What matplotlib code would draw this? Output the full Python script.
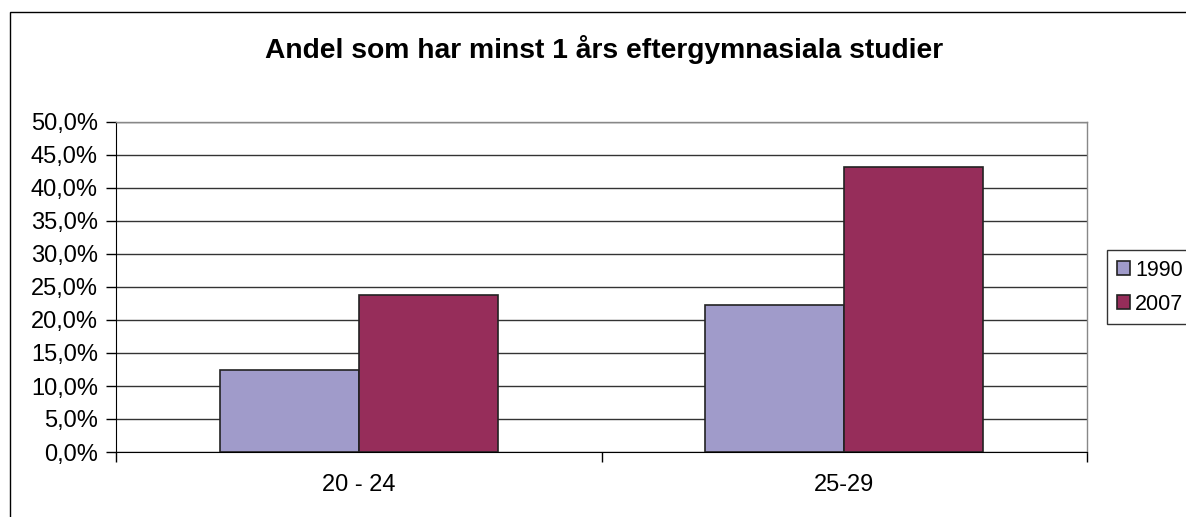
import numpy as np
import matplotlib.pyplot as plt
from matplotlib.patches import Rectangle
from matplotlib.ticker import FuncFormatter

categories = ["20 - 24", "25-29"]
years = ["1990", "2007"]
values_1990 = [12.5, 22.2]
values_2007 = [23.8, 43.2]
yticks = [0, 5, 10, 15, 20, 25, 30, 35, 40, 45, 50]

colors = ["#A09BCA", "#962D5A"]

plt.rcParams["font.family"] = ["Liberation Sans", "DejaVu Sans"]

fig = plt.figure(figsize=(11.86, 5.17), dpi=100)
ax = fig.add_axes([116 / 1186, 1 - 452 / 517, 971 / 1186, 330 / 517])

# outer chart border (cut off at right and bottom like the original)
fig.patches.append(Rectangle((10 / 1186, -0.1), 1.2, 1 - 12 / 517 + 0.1,
                             transform=fig.transFigure, fill=False,
                             edgecolor="black", lw=1.0))

x = np.arange(len(categories))
w = 0.286
ax.bar(x - w / 2, values_1990, w, color=colors[0], edgecolor="#222222", lw=1.2, label=years[0], zorder=3)
ax.bar(x + w / 2, values_2007, w, color=colors[1], edgecolor="#222222", lw=1.2, label=years[1], zorder=3)

ax.set_xlim(-0.5, len(categories) - 0.5)
ax.set_ylim(0, 50)
ax.set_yticks(yticks)
ax.yaxis.set_major_formatter(FuncFormatter(lambda v, p: f"{v:.1f}%".replace(".", ",")))
ax.yaxis.grid(True, color="#333333", lw=1.0, zorder=0)

ax.set_xticks(x)
ax.set_xticklabels(categories)
ax.set_xticks(np.arange(len(categories) + 1) - 0.5, minor=True)
ax.tick_params(axis="x", which="major", length=0, pad=16, labelsize=17)
ax.tick_params(axis="x", which="minor", length=7, width=1, color="black")
ax.tick_params(axis="y", length=7, width=1, color="black", labelsize=17, pad=6)

for s in ["top", "right"]:
    ax.spines[s].set_color("#888888")
    ax.spines[s].set_linewidth(1.0)
ax.spines["left"].set_color("black")
ax.spines["bottom"].set_color("black")

fig.text(604 / 1186, 1 - 49 / 517, "Andel som har minst 1 års eftergymnasiala studier",
         ha="center", va="center", fontsize=20.3, fontweight="bold")

leg = fig.legend(loc="upper left", bbox_to_anchor=(1107 / 1186, 1 - 250 / 517),
                 frameon=True, fancybox=False, fontsize=15.5, handlelength=0.6,
                 handleheight=0.6, handletextpad=0.25, borderpad=0.45,
                 labelspacing=0.6, borderaxespad=0)
leg.get_frame().set_edgecolor("black")
leg.get_frame().set_linewidth(1.0)

fig.savefig("out.png", dpi=100)
